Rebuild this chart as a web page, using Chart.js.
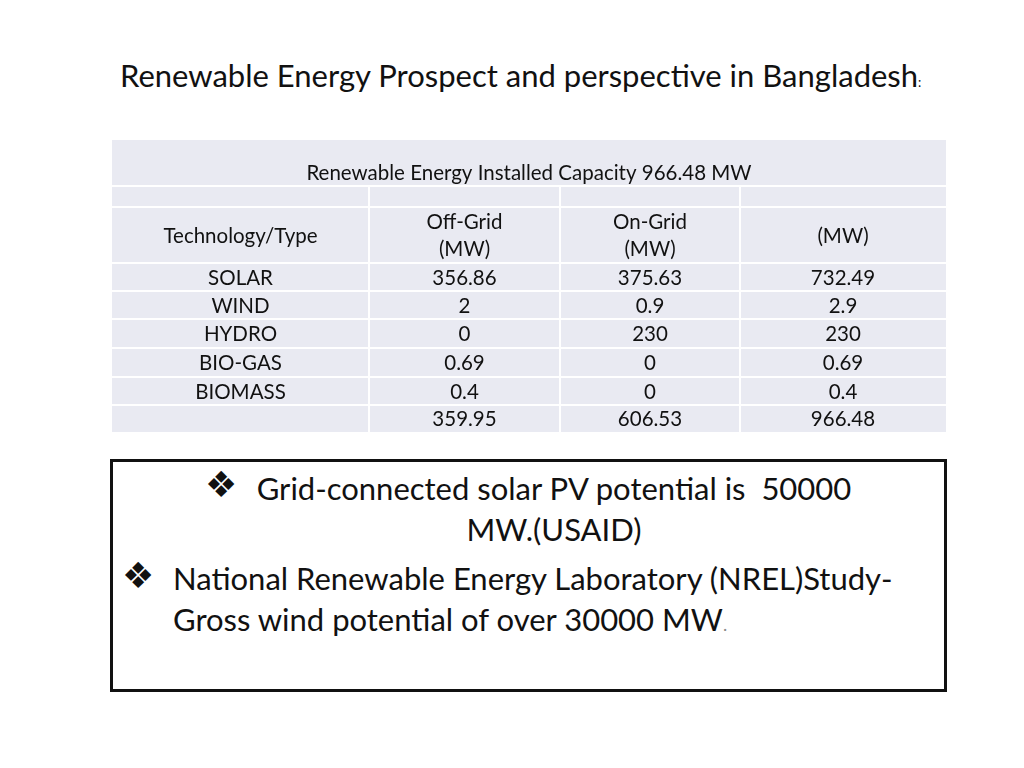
<!DOCTYPE html>
<html>
<head>
<meta charset="utf-8">
<script src="https://cdn.jsdelivr.net/npm/chart.js@4/dist/chart.umd.min.js"></script>
<style>
  body { margin: 0; background: #fff; width: 1024px; height: 768px; position: relative; overflow: hidden; font-family: Lato, "Open Sans", sans-serif; color: #111; }
  #pageTitle { position: absolute; left: 120px; top: 56px; font-size: 31px; white-space: nowrap; }
  #pageTitle small { font-size: 13px; }
  #tableWrap { position: absolute; left: 112px; top: 140px; width: 834px; height: 292px; }
  #notes { position: absolute; left: 110px; top: 459px; width: 831px; height: 227px; border: 3px solid #111; }
  .bul { font-family: "DejaVu Sans", sans-serif; font-size: 36px; line-height: 36px; position: absolute; }
  .para { position: absolute; font-size: 31px; line-height: 41px; white-space: nowrap; }
</style>
</head>
<body>
<div id="pageTitle">Renewable Energy Prospect and perspective in Bangladesh<small>:</small></div>

<div id="tableWrap"><canvas id="capacityChart" width="834" height="292"></canvas></div>

<div id="notes">
  <div class="bul" style="left:92px; top:5px;">&#x2756;</div>
  <div class="para" style="left:60px; width:762px; top:6px; text-align:center;">Grid-connected solar PV potential is&nbsp; 50000<br>MW.(USAID)</div>
  <div class="bul" style="left:9px; top:96px;">&#x2756;</div>
  <div class="para" style="left:60px; width:770px; top:96px;">National Renewable Energy Laboratory (NREL)Study-<br>Gross wind potential of over 30000 MW<span style="color:#888; font-size:18px;">.</span></div>
</div>

<script>
// table data
const tableTitle = 'Renewable Energy Installed Capacity 966.48 MW';
const headerLabels = [['Technology/Type'], ['Off-Grid', '(MW)'], ['On-Grid', '(MW)'], ['(MW)']];
const techTypes = ['SOLAR', 'WIND', 'HYDRO', 'BIO-GAS', 'BIOMASS', ''];
const offGrid = [356.86, 2, 0, 0.69, 0.4, 359.95];
const onGrid = [375.63, 0.9, 230, 0, 0, 606.53];
const totalMW = [732.49, 2.9, 230, 0.69, 0.4, 966.48];

// layout of the grid (table units)
const colEdges = [0, 257, 448, 628, 834];
const rowEdges = [0, 46, 67, 123, 151, 179, 208, 237, 265, 292];
const cellFill = '#e9eaf2';

const tablePlugin = {
    id: 'capacityTable',
    beforeDatasetsDraw(chart) {
        const ctx = chart.ctx;
        const x = chart.scales.x;
        const y = chart.scales.y;
        const px = v => x.getPixelForValue(v);
        const py = v => y.getPixelForValue(v);
        const last = colEdges[colEdges.length - 1];
        const bottom = rowEdges[rowEdges.length - 1];

        ctx.save();
        ctx.fillStyle = cellFill;
        ctx.fillRect(px(0), py(0), px(last) - px(0), py(bottom) - py(0));

        // white grid lines
        ctx.strokeStyle = '#ffffff';
        ctx.lineWidth = 2;
        for (let r = 1; r < rowEdges.length - 1; r++) {
            ctx.beginPath();
            ctx.moveTo(px(0), py(rowEdges[r]));
            ctx.lineTo(px(last), py(rowEdges[r]));
            ctx.stroke();
        }
        for (let c = 1; c < colEdges.length - 1; c++) {
            ctx.beginPath();
            ctx.moveTo(px(colEdges[c]), py(rowEdges[1]));
            ctx.lineTo(px(colEdges[c]), py(bottom));
            ctx.stroke();
        }

        ctx.fillStyle = '#111';
        ctx.font = '20.5px Lato, "Open Sans", sans-serif';
        ctx.textAlign = 'center';
        ctx.textBaseline = 'middle';
        const colMid = c => px((colEdges[c] + colEdges[c + 1]) / 2);
        const rowMid = r => py((rowEdges[r] + rowEdges[r + 1]) / 2);

        ctx.fillText(tableTitle, px(last / 2), rowMid(0) + 10);

        headerLabels.forEach((lines, c) => {
            const mid = rowMid(2);
            lines.forEach((txt, i) => {
                const off = (i - (lines.length - 1) / 2) * 27;
                ctx.fillText(txt, colMid(c), mid + off + 1);
            });
        });

        const columns = [techTypes, offGrid, onGrid, totalMW];
        for (let i = 0; i < techTypes.length; i++) {
            columns.forEach((col, c) => {
                ctx.fillText(String(col[i]), colMid(c), rowMid(3 + i) + 1);
            });
        }
        ctx.restore();
    }
};

const ctx = document.getElementById('capacityChart').getContext('2d');
const chart = new Chart(ctx, {
    type: 'scatter',
    data: { datasets: [] },
    options: {
        responsive: false,
        animation: false,
        layout: { padding: 0 },
        plugins: { legend: { display: false }, tooltip: { enabled: false } },
        scales: {
            x: { type: 'linear', display: false, offset: false, min: 0, max: colEdges[colEdges.length - 1] },
            y: { type: 'linear', display: false, offset: false, min: 0, max: rowEdges[rowEdges.length - 1], reverse: true }
        }
    },
    plugins: [tablePlugin]
});
</script>
</body>
</html>
